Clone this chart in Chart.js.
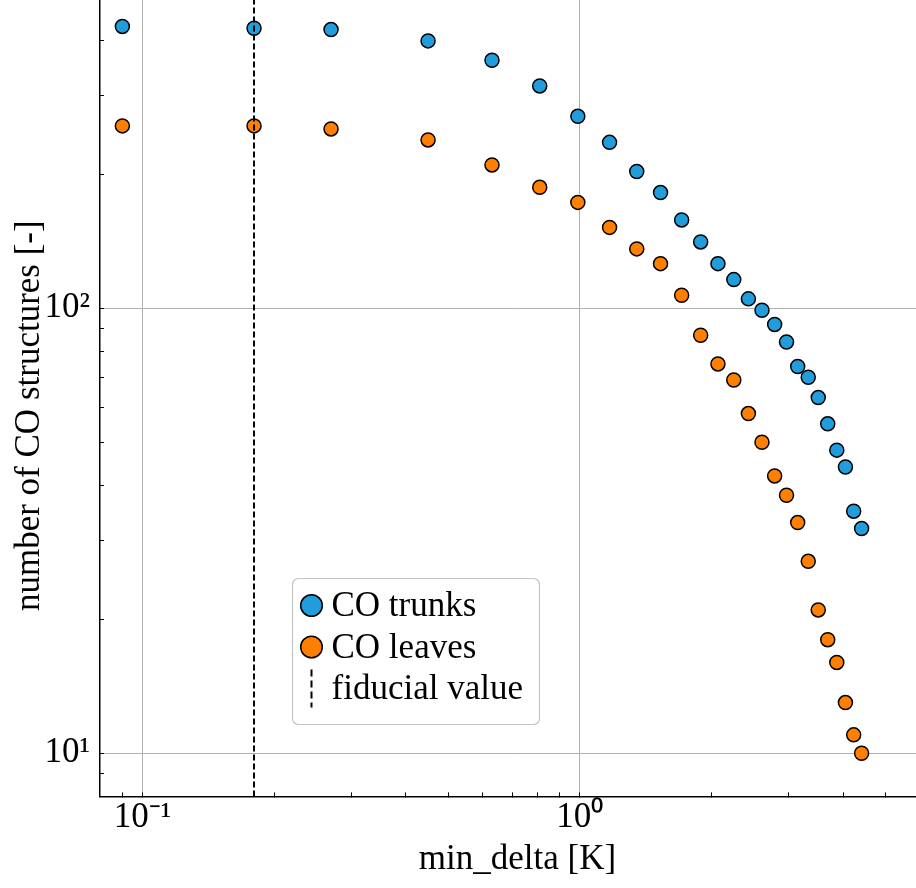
<!DOCTYPE html>
<html>
<head>
<meta charset="utf-8">
<script src="https://cdn.jsdelivr.net/npm/chart.js@4.4.1/dist/chart.umd.min.js"></script>
<style>
  html, body { margin: 0; padding: 0; background: #fff; }
  #wrap { width: 916px; height: 888px; overflow: hidden; position: relative; }
</style>
</head>
<body>
<div id="wrap"><canvas id="c" width="935" height="888"></canvas></div>
<script>
// data
const minDelta = [0.09, 0.18, 0.27, 0.45, 0.63, 0.81, 0.99, 1.17, 1.35, 1.53, 1.71, 1.89, 2.07,
                  2.25, 2.43, 2.61, 2.79, 2.97, 3.15, 3.33, 3.51, 3.69, 3.87, 4.05, 4.23, 4.41];
const coTrunks = [430, 426, 423, 399, 361, 316, 270, 236, 203, 182, 158, 141, 126,
                  116, 105, 99, 92, 84, 74, 70, 63, 55, 48, 44, 35, 32];
const coLeaves = [257, 257, 253, 239, 210, 187, 173, 152, 136, 126, 107, 87, 75,
                  69, 58, 50, 42, 38, 33, 27, 21, 18, 16, 13, 11, 10];
const fiducial = 0.18;

const xRange = [0.08, 6.49];
const yRange = [8, 493];
const xTicks = [0.09, 0.1, 0.2, 0.3, 0.4, 0.5, 0.6, 0.7, 0.8, 0.9, 1, 2, 3, 4, 5, 6];
const xMajor = [0.1, 1];
const xMajorLabels = ['10⁻¹', '10⁰'];
const yTicks = [9, 10, 20, 30, 40, 50, 60, 70, 80, 90, 100, 200, 300, 400];
const yMajor = [10, 100];
const yMajorLabels = ['10¹', '10²'];

const FONT = "'Liberation Serif', 'Times New Roman', serif";
const BLUE = '#219ddc';
const ORANGE = '#ff7f00';

const same = (a, b) => Math.abs(a - b) < 1e-9 * Math.max(1, b);
const labelFor = (v, majors, labels) => {
  const i = majors.findIndex(m => same(v, m));
  return i >= 0 ? labels[i] : '';
};
const gridColor = (majors) => (ctx) =>
  ctx.tick && majors.some(m => same(ctx.tick.value, m)) ? '#b0b0b0' : 'rgba(0,0,0,0)';

// legend box drawn inside the plot, like matplotlib's
const boxLegend = {
  id: 'boxLegend',
  afterDatasetsDraw(chart, args, opts) {
    const ctx = chart.ctx;
    ctx.save();
    ctx.beginPath();
    ctx.roundRect(opts.x, opts.y, opts.w, opts.h, 6);
    ctx.fillStyle = 'rgba(255,255,255,0.85)';
    ctx.fill();
    ctx.lineWidth = 1.2;
    ctx.strokeStyle = '#c4c4c4';
    ctx.stroke();

    ctx.font = '35px ' + FONT;
    ctx.fillStyle = '#000';
    ctx.textBaseline = 'alphabetic';
    const mx = opts.x + 19;
    chart.data.datasets.forEach((ds, i) => {
      const cy = opts.y + 27 + i * 41.5;
      ctx.beginPath();
      if (ds.showLine) {
        ctx.setLineDash([7, 4]);
        ctx.lineWidth = 2;
        ctx.strokeStyle = ds.borderColor;
        ctx.moveTo(mx, cy - 19);
        ctx.lineTo(mx, cy + 19);
        ctx.stroke();
        ctx.setLineDash([]);
      } else {
        ctx.arc(mx, cy, 10.8, 0, Math.PI * 2);
        ctx.fillStyle = ds.backgroundColor;
        ctx.fill();
        ctx.lineWidth = 1.5;
        ctx.strokeStyle = ds.borderColor;
        ctx.stroke();
      }
      ctx.fillStyle = '#000';
      ctx.fillText(ds.label, opts.x + 39, cy + 10.7);
    });
    ctx.restore();
  }
};

const pts = (ys) => minDelta.map((x, i) => ({x: x, y: ys[i]}));

new Chart(document.getElementById('c'), {
  type: 'scatter',
  data: {
    datasets: [
      {
        label: 'CO trunks',
        data: pts(coTrunks),
        backgroundColor: BLUE,
        borderColor: '#000',
        borderWidth: 1.5,
        pointRadius: 7,
        pointHoverRadius: 7
      },
      {
        label: 'CO leaves',
        data: pts(coLeaves),
        backgroundColor: ORANGE,
        borderColor: '#000',
        borderWidth: 1.5,
        pointRadius: 7,
        pointHoverRadius: 7
      },
      {
        label: 'fiducial value',
        data: [{x: fiducial, y: yRange[0]}, {x: fiducial, y: yRange[1]}],
        showLine: true,
        borderColor: '#000',
        borderWidth: 2,
        borderDash: [6, 3],
        pointRadius: 0,
        order: -1
      }
    ]
  },
  options: {
    responsive: false,
    animation: false,
    devicePixelRatio: 1,
    layout: { padding: 0, autoPadding: false },
    plugins: {
      legend: { display: false },
      tooltip: { enabled: false },
      boxLegend: { x: 292.5, y: 578.5, w: 247, h: 146 }
    },
    scales: {
      x: {
        type: 'logarithmic',
        position: 'bottom',
        min: xRange[0],
        max: xRange[1],
        afterBuildTicks: (s) => { s.ticks = xTicks.map(v => ({value: v})); },
        afterFit: (s) => { s.height = 888 - 796.4; s.paddingLeft = 0; s.paddingRight = 0; },
        ticks: {
          autoSkip: false,
          maxRotation: 0,
          padding: 4,
          color: '#000',
          font: { family: FONT, size: 35 },
          callback: (v) => labelFor(v, xMajor, xMajorLabels)
        },
        grid: {
          color: gridColor(xMajor),
          lineWidth: 1,
          tickLength: -4,
          tickColor: '#000',
          tickWidth: 1
        },
        border: { color: '#000', width: 1.5 },
        title: {
          display: true,
          text: 'min_delta [K]',
          color: '#000',
          font: { family: FONT, size: 35 },
          padding: { top: 0, bottom: 7 }
        }
      },
      y: {
        type: 'logarithmic',
        position: 'left',
        min: yRange[0],
        max: yRange[1],
        afterBuildTicks: (s) => { s.ticks = yTicks.map(v => ({value: v})); },
        afterFit: (s) => { s.width = 100; s.paddingTop = 0; s.paddingBottom = 0; },
        ticks: {
          autoSkip: false,
          padding: 14,
          color: '#000',
          font: { family: FONT, size: 35 },
          callback: (v) => labelFor(v, yMajor, yMajorLabels)
        },
        grid: {
          color: gridColor(yMajor),
          lineWidth: 1,
          tickLength: -4,
          tickColor: '#000',
          tickWidth: 1
        },
        border: { color: '#000', width: 1.5 },
        title: {
          display: true,
          text: 'number of CO structures [-]    ',
          color: '#000',
          font: { family: FONT, size: 35 },
          padding: { top: 9, bottom: 0 }
        }
      }
    }
  },
  plugins: [boxLegend]
});
</script>
</body>
</html>
